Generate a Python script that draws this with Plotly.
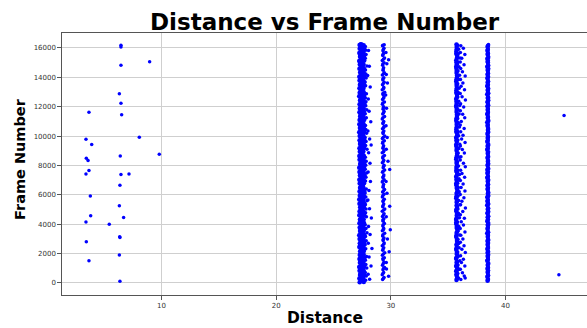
import plotly.graph_objects as go

# ---- isolated points ----
dist_sparse = [6.47, 6.47, 8.97, 6.47, 6.33, 6.47, 3.68, 6.53, 8.07, 3.42, 3.92, 9.81, 6.41, 3.45, 3.60,
               3.68, 3.42, 6.47, 7.17, 6.38, 3.80, 6.33, 3.83, 6.70, 3.42, 5.45, 6.36, 6.38, 3.45, 6.33,
               3.68, 6.38, 45.1, 44.65]
frame_sparse = [16180, 16070, 15070, 14820, 12890, 12230, 11620, 11460, 9920, 9780, 9420, 8760, 8650, 8490, 8330,
                7650, 7420, 7380, 7420, 6650, 5920, 5260, 4580, 4450, 4150, 3990, 3150, 3100, 2810, 1910,
                1520, 110, 11410, 565]

# ---- column near 27.5 ----
frame_a1 = [40, 300, 550, 830, 1090, 1370, 1630, 1910, 2160, 2450, 2700, 2990, 3240, 3530, 3780, 4070, 4320,
            4610, 4860, 5150, 5400, 5690, 5940, 6230, 6480, 6770, 7020, 7310, 7560, 7850, 8100, 8390, 8640,
            8930, 9180, 9470, 9720, 10010, 10260, 10550, 10800, 11090, 11340, 11630, 11880, 12170, 12420,
            12710, 12960, 13250, 13500, 13790, 14040, 14330, 14580, 14870, 15120, 15410, 15660, 15950, 16210]
dist_a1 = [27.28, 27.25, 27.31, 27.27, 27.24, 27.30, 27.26, 27.29, 27.32, 27.25,
           27.29, 27.27, 27.24, 27.31, 27.28, 27.26, 27.30, 27.25, 27.27, 27.32,
           27.26, 27.24, 27.29, 27.27, 27.31, 27.28, 27.25, 27.30, 27.26, 27.24,
           27.32, 27.27, 27.25, 27.29, 27.26, 27.31, 27.27, 27.28, 27.24, 27.30,
           27.25, 27.27, 27.32, 27.26, 27.29, 27.27, 27.31, 27.24, 27.28, 27.26,
           27.30, 27.27, 27.25, 27.32, 27.26, 27.29, 27.24, 27.31, 27.25, 27.28, 27.27]
frame_a6 = [110, 380, 640, 920, 1180, 1460, 1720, 2000, 2250, 2540, 2790, 3080, 3330, 3620, 3870, 4160, 4410,
            4700, 4950, 5240, 5490, 5780, 6030, 6320, 6570, 6860, 7110, 7400, 7650, 7940, 8190, 8480, 8730,
            9020, 9270, 9560, 9810, 10100, 10350, 10640, 10890, 11180, 11430, 11720, 11970, 12260, 12510,
            12800, 13050, 13340, 13590, 13880, 14130, 14420, 14670, 14960, 15210, 15500, 15750, 16040, 16250]
dist_a6 = [27.36, 27.38, 27.35, 27.39, 27.37, 27.34, 27.38, 27.36, 27.40, 27.35,
           27.37, 27.39, 27.34, 27.36, 27.38, 27.35, 27.40, 27.37, 27.34, 27.39,
           27.36, 27.38, 27.35, 27.37, 27.40, 27.34, 27.36, 27.39, 27.37, 27.35,
           27.38, 27.34, 27.40, 27.36, 27.37, 27.35, 27.39, 27.38, 27.34, 27.36,
           27.40, 27.37, 27.35, 27.38, 27.34, 27.39, 27.36, 27.37, 27.35, 27.40,
           27.38, 27.34, 27.36, 27.39, 27.37, 27.35, 27.38, 27.34, 27.40, 27.36, 27.37]
frame_a2 = [170, 430, 690, 960, 1240, 1490, 1770, 2030, 2310, 2570, 2850, 3100, 3390, 3640, 3930, 4180, 4470,
            4720, 5010, 5260, 5550, 5800, 6090, 6340, 6630, 6880, 7170, 7420, 7710, 7960, 8250, 8500, 8790,
            9040, 9330, 9580, 9870, 10120, 10410, 10660, 10950, 11200, 11490, 11740, 12030, 12280, 12570,
            12820, 13110, 13360, 13650, 13900, 14190, 14440, 14730, 14980, 15270, 15520, 15810, 16060, 16230]
dist_a2 = [27.46, 27.43, 27.50, 27.44, 27.48, 27.42, 27.51, 27.45, 27.47, 27.43,
           27.49, 27.44, 27.52, 27.46, 27.42, 27.48, 27.45, 27.50, 27.43, 27.47,
           27.51, 27.44, 27.46, 27.49, 27.42, 27.48, 27.45, 27.52, 27.43, 27.47,
           27.50, 27.44, 27.46, 27.42, 27.49, 27.45, 27.51, 27.43, 27.48, 27.46,
           27.44, 27.50, 27.42, 27.47, 27.45, 27.52, 27.43, 27.49, 27.46, 27.44,
           27.48, 27.42, 27.51, 27.45, 27.47, 27.43, 27.50, 27.46, 27.44, 27.49, 27.45]
frame_a7 = [230, 500, 760, 1030, 1300, 1560, 1830, 2100, 2370, 2640, 2910, 3170, 3450, 3710, 3990, 4250, 4530,
            4790, 5070, 5330, 5610, 5870, 6150, 6410, 6690, 6950, 7230, 7490, 7770, 8030, 8310, 8570, 8850,
            9110, 9390, 9650, 9930, 10190, 10470, 10730, 11010, 11270, 11550, 11810, 12090, 12350, 12630,
            12890, 13170, 13430, 13710, 13970, 14250, 14510, 14790, 15050, 15330, 15590, 15870, 16130]
dist_a7 = [27.55, 27.57, 27.54, 27.58, 27.56, 27.53, 27.59, 27.55, 27.57, 27.54,
           27.56, 27.58, 27.53, 27.55, 27.59, 27.56, 27.54, 27.57, 27.53, 27.58,
           27.55, 27.56, 27.59, 27.54, 27.57, 27.53, 27.55, 27.58, 27.56, 27.54,
           27.59, 27.55, 27.53, 27.57, 27.56, 27.58, 27.54, 27.55, 27.59, 27.53,
           27.57, 27.56, 27.54, 27.58, 27.55, 27.53, 27.57, 27.59, 27.56, 27.54,
           27.55, 27.58, 27.53, 27.57, 27.56, 27.54, 27.59, 27.55, 27.57, 27.56]
frame_a3 = [60, 330, 570, 860, 1100, 1390, 1640, 1930, 2180, 2470, 2720, 3010, 3260, 3550, 3800, 4090, 4340,
            4630, 4880, 5170, 5420, 5710, 5960, 6250, 6500, 6790, 7040, 7330, 7580, 7870, 8120, 8410, 8660,
            8950, 9200, 9490, 9740, 10030, 10280, 10570, 10820, 11110, 11360, 11650, 11900, 12190, 12440,
            12730, 12980, 13270, 13520, 13810, 14060, 14350, 14600, 14890, 15140, 15430, 15680, 15970, 16190]
dist_a3 = [27.64, 27.61, 27.68, 27.62, 27.66, 27.60, 27.69, 27.63, 27.65, 27.61,
           27.67, 27.62, 27.70, 27.64, 27.60, 27.66, 27.63, 27.68, 27.61, 27.65,
           27.69, 27.62, 27.64, 27.67, 27.60, 27.66, 27.63, 27.70, 27.61, 27.65,
           27.68, 27.62, 27.64, 27.60, 27.67, 27.63, 27.69, 27.61, 27.66, 27.64,
           27.62, 27.68, 27.60, 27.65, 27.63, 27.70, 27.61, 27.67, 27.64, 27.62,
           27.66, 27.60, 27.69, 27.63, 27.65, 27.61, 27.68, 27.64, 27.62, 27.67, 27.63]
frame_a4 = [190, 470, 720, 1010, 1250, 1540, 1800, 2330, 2610, 2880, 3170, 3420, 3700, 3960, 4500, 4780,
            5030, 5330, 5590, 5860, 6130, 6400, 6940, 7200, 7480, 7740, 8020, 8290, 8560, 9100, 9360, 9640,
            9900, 10190, 10450, 10720, 11250, 11530, 11790, 12060, 12340, 12600, 12880, 13420, 13690, 13950,
            14230, 14500, 14770, 15300, 15560, 15840, 16100]
dist_a4 = [27.80, 27.86, 27.77, 27.90, 27.82, 27.78, 27.88, 27.81, 27.76, 27.85,
           27.79, 27.92, 27.83, 27.77, 27.87, 27.80, 27.84, 27.78, 27.91, 27.82,
           27.76, 27.86, 27.79, 27.83, 27.89, 27.77, 27.81, 27.85, 27.78, 27.92,
           27.80, 27.84, 27.76, 27.88, 27.82, 27.79, 27.86, 27.77, 27.90, 27.81,
           27.83, 27.78, 27.87, 27.80, 27.76, 27.85, 27.82, 27.79, 27.91, 27.77,
           27.84, 27.81, 27.78]
frame_a5 = [15820, 14750, 14120, 13350, 12520, 11700, 10980, 10350, 9810, 9400, 8870, 8150, 7560, 6900,
            6300, 5650, 5050, 4420, 3850, 3300, 2700, 2350, 1760, 1150, 600, 250]
dist_a5 = [28.05, 28.12, 27.98, 28.20, 28.03, 28.10, 28.25, 28.00, 28.15, 28.28, 28.06, 28.18, 28.02, 28.22,
           28.09, 28.00, 28.14, 28.30, 28.05, 28.19, 28.03, 28.35, 28.10, 28.27, 28.02, 28.15]

# ---- column near 29.3 ----
frame_b1 = [230, 560, 900, 1210, 1560, 1880, 2230, 2540, 2890, 3200, 3550, 3870, 4210, 4530, 4880, 5190,
            5540, 5860, 6200, 6520, 6870, 7180, 7530, 7850, 8190, 8510, 8860, 9170, 9520, 9840, 10180,
            10500, 10850, 11160, 11510, 11830, 12170, 12490, 12840, 13150, 13500, 13820, 14160, 14480,
            14830, 15140, 15490, 15810, 16150]
dist_b1 = [29.28, 29.25, 29.31, 29.27, 29.33, 29.26, 29.29, 29.25, 29.32, 29.28,
           29.26, 29.30, 29.33, 29.27, 29.25, 29.29, 29.31, 29.26, 29.28, 29.32,
           29.25, 29.30, 29.27, 29.33, 29.26, 29.29, 29.25, 29.31, 29.28, 29.26,
           29.32, 29.27, 29.30, 29.25, 29.29, 29.33, 29.26, 29.28, 29.31, 29.25,
           29.27, 29.30, 29.26, 29.32, 29.28, 29.25, 29.29, 29.31, 29.27]
frame_b4 = [300, 640, 980, 1300, 1640, 1970, 2310, 2630, 2970, 3290, 3640, 3960, 4290, 4620, 4960, 5280,
            5620, 5950, 6280, 6610, 6950, 7270, 7610, 7940, 8270, 8600, 8940, 9260, 9600, 9920, 10260,
            10590, 10920, 11250, 11590, 11910, 12250, 12580, 12920, 13240, 13580, 13900, 14240, 14570,
            14910, 15230, 15570, 15890, 16190]
dist_b4 = [29.34, 29.31, 29.36, 29.33, 29.30, 29.35, 29.32, 29.37, 29.34, 29.31,
           29.36, 29.33, 29.30, 29.35, 29.38, 29.32, 29.34, 29.31, 29.36, 29.33,
           29.30, 29.35, 29.32, 29.37, 29.34, 29.31, 29.36, 29.33, 29.30, 29.35,
           29.32, 29.38, 29.34, 29.31, 29.36, 29.33, 29.30, 29.35, 29.32, 29.37,
           29.34, 29.31, 29.36, 29.33, 29.30, 29.35, 29.32, 29.34, 29.31]
frame_b2 = [380, 720, 1050, 1390, 1720, 2060, 2390, 2720, 3060, 3380, 3720, 4050, 4370, 4720, 5040, 5370,
            5700, 6040, 6360, 6700, 7030, 7350, 7690, 8020, 8350, 8680, 9010, 9340, 9680, 10000, 10340,
            10670, 11000, 11330, 11670, 11990, 12330, 12660, 12990, 13320, 13660, 13980, 14320, 14650,
            14990, 15310, 15650, 15980, 16220]
dist_b2 = [29.41, 29.37, 29.45, 29.39, 29.43, 29.47, 29.38, 29.42, 29.40, 29.46,
           29.37, 29.44, 29.39, 29.41, 29.47, 29.38, 29.43, 29.40, 29.45, 29.37,
           29.42, 29.39, 29.46, 29.41, 29.38, 29.44, 29.40, 29.37, 29.43, 29.47,
           29.39, 29.42, 29.38, 29.45, 29.41, 29.37, 29.44, 29.40, 29.46, 29.38,
           29.42, 29.39, 29.43, 29.37, 29.41, 29.45, 29.38, 29.40, 29.42]
frame_b3 = [15700, 15200, 14930, 14200, 13620, 12800, 11900, 10700, 9900, 9100, 8280, 7720, 6900, 6100,
            5220, 4500, 3630, 3000, 2130, 1400, 950, 450]
dist_b3 = [29.57, 29.80, 29.65, 29.60, 29.70, 29.55, 29.62, 29.58, 29.68, 29.60, 29.75, 29.90, 29.58, 29.66,
           29.90, 29.60, 29.95, 29.70, 29.85, 29.60, 29.62, 29.80]

# ---- column near 35.8 ----
frame_c1 = [200, 480, 790, 1060, 1370, 1650, 1950, 2240, 2540, 2820, 3130, 3410, 3710, 4000, 4300, 4590,
            4890, 5170, 5480, 5760, 6070, 6350, 6650, 6940, 7240, 7530, 7830, 8110, 8420, 8700, 9010, 9290,
            9590, 9880, 10180, 10470, 10770, 11050, 11360, 11640, 11950, 12230, 12530, 12820, 13120, 13410,
            13710, 13990, 14300, 14580, 14890, 15170, 15470, 15760, 16060, 16240]
dist_c1 = [35.72, 35.75, 35.70, 35.77, 35.73, 35.69, 35.76, 35.71, 35.74, 35.78,
           35.70, 35.73, 35.76, 35.72, 35.69, 35.75, 35.71, 35.77, 35.74, 35.70,
           35.73, 35.79, 35.72, 35.75, 35.69, 35.76, 35.71, 35.74, 35.70, 35.77,
           35.73, 35.72, 35.75, 35.69, 35.78, 35.71, 35.74, 35.70, 35.76, 35.73,
           35.72, 35.75, 35.69, 35.77, 35.71, 35.74, 35.70, 35.76, 35.73, 35.72,
           35.75, 35.70, 35.78, 35.71, 35.74, 35.72]
frame_c4 = [280, 570, 870, 1150, 1450, 1740, 2040, 2330, 2630, 2920, 3220, 3510, 3810, 4100, 4400, 4690,
            4990, 5280, 5580, 5870, 6170, 6460, 6760, 7050, 7350, 7640, 7940, 8230, 8530, 8820, 9120, 9410,
            9710, 10000, 10300, 10590, 10890, 11180, 11480, 11770, 12070, 12360, 12660, 12950, 13250, 13540,
            13840, 14130, 14430, 14720, 15020, 15310, 15610, 15900]
dist_c4 = [35.76, 35.71, 35.74, 35.69, 35.77, 35.72, 35.75, 35.70, 35.73, 35.76,
           35.71, 35.78, 35.74, 35.69, 35.72, 35.76, 35.70, 35.73, 35.75, 35.71,
           35.77, 35.74, 35.69, 35.72, 35.76, 35.70, 35.75, 35.73, 35.71, 35.78,
           35.74, 35.69, 35.72, 35.76, 35.70, 35.73, 35.75, 35.71, 35.77, 35.74,
           35.69, 35.72, 35.76, 35.70, 35.75, 35.73, 35.71, 35.77, 35.74, 35.69,
           35.72, 35.76, 35.70, 35.73]
frame_c2 = [340, 640, 930, 1220, 1510, 1800, 2100, 2390, 2680, 2980, 3270, 3560, 3850, 4150, 4440, 4740,
            5030, 5320, 5620, 5910, 6210, 6500, 6790, 7090, 7380, 7680, 7970, 8260, 8560, 8850, 9150, 9440,
            9730, 10030, 10320, 10620, 10910, 11200, 11500, 11790, 12090, 12380, 12670, 12970, 13260, 13560,
            13850, 14140, 14440, 14730, 15030, 15320, 15610, 15910, 16180]
dist_c2 = [35.90, 35.84, 35.97, 35.86, 36.01, 35.88, 35.83, 35.95, 35.92, 35.85,
           36.00, 35.87, 35.93, 35.82, 35.98, 35.89, 35.85, 36.02, 35.91, 35.84,
           35.96, 35.88, 35.83, 35.94, 35.99, 35.86, 35.90, 35.82, 35.97, 35.87,
           35.93, 36.01, 35.85, 35.91, 35.84, 35.98, 35.89, 35.83, 35.95, 35.86,
           36.00, 35.92, 35.84, 35.88, 35.96, 35.83, 35.90, 35.99, 35.86, 35.94,
           35.85, 36.02, 35.88, 35.91, 35.84]
frame_c3 = [16150, 15980, 15700, 15550, 15300, 15050, 14850, 14600, 14380, 14100, 13850, 13620, 13400,
            13150, 12900, 12680, 12450, 12200, 11980, 11720, 11480, 11250, 11000, 10760, 10520, 10300,
            10050, 9800, 9560, 9320, 9080, 8850, 8600, 8380, 8150, 7920, 7680, 7450, 7200, 6980, 6740,
            6500, 6270, 6030, 5800, 5560, 5330, 5100, 4870, 4640, 4400, 4170, 3940, 3700, 3470, 3240,
            3000, 2780, 2540, 2300, 2080, 1850, 1620, 1390, 1160, 930, 700, 470, 240, 330]
dist_c3 = [36.10, 36.32, 36.06, 36.45, 36.18, 36.05, 36.38, 36.09, 36.24, 36.48, 36.07, 36.28, 36.12, 36.42,
           36.05, 36.21, 36.50, 36.08, 36.35, 36.06, 36.26, 36.44, 36.14, 36.05, 36.39, 36.09, 36.29, 36.17,
           36.47, 36.06, 36.23, 36.41, 36.11, 36.05, 36.33, 36.49, 36.08, 36.20, 36.43, 36.06, 36.30, 36.12,
           36.46, 36.05, 36.37, 36.19, 36.08, 36.50, 36.27, 36.06, 36.41, 36.14, 36.33, 36.05, 36.46, 36.10,
           36.28, 36.06, 36.38, 36.19, 36.49, 36.08, 36.32, 36.15, 36.45, 36.06, 36.24, 36.40, 36.10, 36.48]

# ---- column near 38.45 ----
frame_d1 = [150, 430, 690, 970, 1230, 1510, 1770, 2050, 2310, 2590, 2850, 3130, 3390, 3670, 3930, 4210,
            4470, 4750, 5010, 5290, 5550, 5830, 6090, 6370, 6630, 6910, 7170, 7450, 7710, 7990, 8250, 8530,
            8790, 9070, 9330, 9610, 9870, 10150, 10410, 10690, 10950, 11230, 11490, 11770, 12030, 12310,
            12570, 12850, 13110, 13390, 13650, 13930, 14190, 14470, 14730, 15010, 15270, 15550, 15810, 16090]
dist_d1 = [38.43, 38.41, 38.45, 38.42, 38.44, 38.40, 38.46, 38.43, 38.41, 38.44,
           38.42, 38.45, 38.40, 38.43, 38.46, 38.41, 38.44, 38.42, 38.45, 38.40,
           38.43, 38.41, 38.46, 38.44, 38.42, 38.45, 38.40, 38.43, 38.41, 38.44,
           38.46, 38.42, 38.45, 38.40, 38.43, 38.41, 38.44, 38.42, 38.46, 38.43,
           38.40, 38.45, 38.41, 38.44, 38.42, 38.43, 38.46, 38.40, 38.45, 38.41,
           38.44, 38.42, 38.43, 38.45, 38.40, 38.46, 38.41, 38.44, 38.42, 38.43]
frame_d3 = [220, 500, 760, 1040, 1300, 1580, 1840, 2120, 2380, 2660, 2920, 3200, 3460, 3740, 4000, 4280,
            4540, 4820, 5080, 5360, 5620, 5900, 6160, 6440, 6700, 6980, 7240, 7520, 7780, 8060, 8320, 8600,
            8860, 9140, 9400, 9680, 9940, 10220, 10480, 10760, 11020, 11300, 11560, 11840, 12100, 12380,
            12640, 12920, 13180, 13460, 13720, 14000, 14260, 14540, 14800, 15080, 15340, 15620, 15880, 16160]
dist_d3 = [38.46, 38.48, 38.45, 38.47, 38.49, 38.46, 38.44, 38.48, 38.47, 38.45,
           38.49, 38.46, 38.48, 38.44, 38.47, 38.45, 38.49, 38.46, 38.48, 38.47,
           38.44, 38.46, 38.49, 38.45, 38.48, 38.47, 38.46, 38.44, 38.49, 38.45,
           38.47, 38.48, 38.46, 38.45, 38.49, 38.44, 38.47, 38.46, 38.48, 38.45,
           38.49, 38.47, 38.44, 38.46, 38.48, 38.45, 38.47, 38.49, 38.46, 38.44,
           38.48, 38.45, 38.47, 38.46, 38.49, 38.44, 38.48, 38.46, 38.45, 38.47]
frame_d2 = [290, 560, 840, 1100, 1380, 1640, 1920, 2180, 2460, 2720, 3000, 3260, 3540, 3800, 4080, 4340,
            4620, 4880, 5160, 5420, 5700, 5960, 6240, 6500, 6780, 7040, 7320, 7580, 7860, 8120, 8400, 8660,
            8940, 9200, 9480, 9740, 10020, 10280, 10560, 10820, 11100, 11360, 11640, 11900, 12180, 12440,
            12720, 12980, 13260, 13520, 13800, 14060, 14340, 14600, 14880, 15140, 15420, 15680, 15960, 16230]
dist_d2 = [38.50, 38.47, 38.52, 38.48, 38.51, 38.49, 38.53, 38.47, 38.50, 38.52,
           38.48, 38.51, 38.47, 38.49, 38.53, 38.50, 38.48, 38.52, 38.47, 38.51,
           38.49, 38.53, 38.48, 38.50, 38.47, 38.52, 38.49, 38.51, 38.48, 38.53,
           38.47, 38.50, 38.52, 38.48, 38.51, 38.49, 38.47, 38.53, 38.50, 38.48,
           38.52, 38.47, 38.51, 38.49, 38.50, 38.53, 38.48, 38.47, 38.52, 38.50,
           38.49, 38.51, 38.48, 38.53, 38.47, 38.50, 38.52, 38.49, 38.48, 38.51]

x_ticks = [10, 20, 30, 40]
y_ticks = [0, 2000, 4000, 6000, 8000, 10000, 12000, 14000, 16000]

# interior chains of the dense columns (drawn with slightly larger dots so the band reads solid)
dense_series = [(dist_a1, frame_a1), (dist_a6, frame_a6), (dist_a2, frame_a2), (dist_a7, frame_a7),
                (dist_a3, frame_a3), (dist_c1, frame_c1), (dist_c4, frame_c4),
                (dist_d1, frame_d1), (dist_d3, frame_d3)]
edge_series = [(dist_sparse, frame_sparse), (dist_a4, frame_a4), (dist_a5, frame_a5),
               (dist_b1, frame_b1), (dist_b4, frame_b4), (dist_b2, frame_b2), (dist_b3, frame_b3),
               (dist_c2, frame_c2), (dist_c3, frame_c3), (dist_d2, frame_d2)]

fig = go.Figure()
for dx, fy in dense_series:
    fig.add_trace(go.Scatter(x=dx, y=fy, mode="markers",
                             marker=dict(color="#0000ff", size=4.5, line=dict(width=0)),
                             showlegend=False, hoverinfo="skip"))
for dx, fy in edge_series:
    fig.add_trace(go.Scatter(x=dx, y=fy, mode="markers",
                             marker=dict(color="#0000ff", size=3.5, line=dict(width=0)),
                             showlegend=False, hoverinfo="skip"))

axis_common = dict(showgrid=True, gridcolor="#cfcfcf", gridwidth=1, zeroline=False,
                   showline=True, linecolor="#555555", linewidth=1.3,
                   ticks="outside", ticklen=3.5, tickwidth=1, tickcolor="#555555",
                   tickfont=dict(family="DejaVu Sans", size=7, color="#333333"))

fig.update_layout(
    width=587, height=328,
    margin=dict(l=62, r=0, t=33, b=33, autoexpand=False),
    paper_bgcolor="white", plot_bgcolor="white",
    xaxis=dict(range=[1.33, 47.1], tickmode="array", tickvals=x_ticks, mirror=True, **axis_common),
    yaxis=dict(range=[-820, 17020], tickmode="array", tickvals=y_ticks, tickformat="d", **axis_common),
    annotations=[
        dict(text="<b>Distance vs Frame Number</b>", xref="paper", yref="paper", x=0.5, y=(295 - 22) / 262,
             xanchor="center", yanchor="middle", showarrow=False,
             font=dict(family="DejaVu Sans", size=23, color="black")),
        dict(text="<b>Distance</b>", xref="paper", yref="paper", x=0.5, y=(295 - 318) / 262,
             xanchor="center", yanchor="middle", showarrow=False,
             font=dict(family="DejaVu Sans", size=15.5, color="black")),
        dict(text="<b>Frame Number</b>", xref="paper", yref="paper", x=(20 - 62) / 525, y=(295 - 159) / 262,
             xanchor="center", yanchor="middle", showarrow=False, textangle=-90,
             font=dict(family="DejaVu Sans", size=14.5, color="black")),
    ],
)

fig.write_html("out.html", config={"displayModeBar": False},
               post_script="document.body.style.margin='0';")
